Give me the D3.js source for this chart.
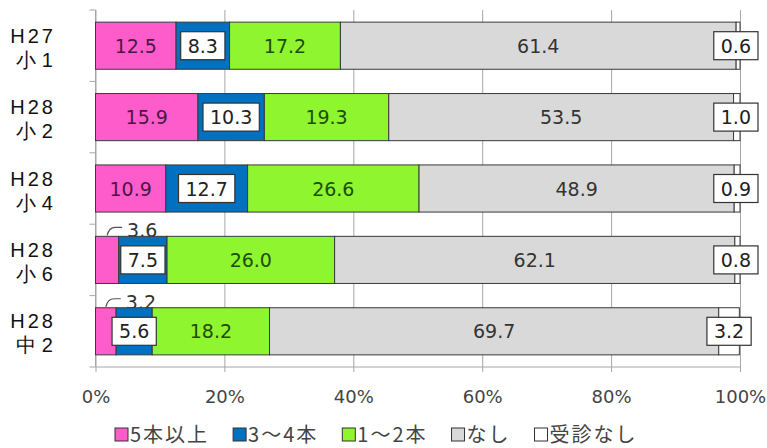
<!DOCTYPE html>
<html lang="ja">
<head>
<meta charset="utf-8">
<title>むし歯の本数</title>
<script src="https://d3js.org/d3.v7.min.js"></script>
<style>
  body { margin: 0; background: #fff; }
  svg { display: block; }
</style>
</head>
<body>
<svg id="chart" width="767" height="448"></svg>
<script>
// data (percent)
var yearLabels  = ["H27", "H28", "H28", "H28", "H28"];
var gradeLabels = ["小 1", "小 2", "小 4", "小 6", "中 2"];
var seriesNames = ["5本以上", "3〜4本", "1〜2本", "なし", "受診なし"];
var fiveOrMore  = [12.5, 15.9, 10.9, 3.6, 3.2];
var threeToFour = [8.3, 10.3, 12.7, 7.5, 5.6];
var oneToTwo    = [17.2, 19.3, 26.6, 26.0, 18.2];
var noneVals    = [61.4, 53.5, 48.9, 62.1, 69.7];
var notExamined = [0.6, 1.0, 0.9, 0.8, 3.2];
var xTicks = [0, 20, 40, 60, 80, 100];

var colors    = ["#ff5ccb", "#0070c0", "#8ef52f", "#d9d9d9", "#ffffff"];
var textColor = ["#4a1744", "#222", "#1f4d05", "#333", "#222"];

var categories = yearLabels.map(function(d, i){ return d + " " + gradeLabels[i]; });
var allSeries = [fiveOrMore, threeToFour, oneToTwo, noneVals, notExamined];

var svg = d3.select("#chart");
var plotTop = 10, plotBottom = 367, plotLeft = 95.5, plotRight = 740;

var x = d3.scaleLinear().domain([0, 100]).range([plotLeft, plotRight]);
var y = d3.scaleBand().domain(categories).range([plotTop, plotBottom])
          .paddingInner(0.34).paddingOuter(0.17);

// stacked segments
var rows = categories.map(function(c, i){
  var acc = 0;
  return allSeries.map(function(s, k){
    var seg = {cat: c, k: k, v: s[i], x0: acc, x1: acc + s[i]};
    acc += s[i];
    return seg;
  });
});
var segs = d3.merge(rows);

var fmt = d3.format(".1f");
var font = "DejaVu Sans, sans-serif";

// gridlines + tick marks under the axis
svg.append("g")
  .attr("transform", "translate(0," + plotTop + ")")
  .call(d3.axisBottom(x).tickValues(xTicks).tickSize(plotBottom - plotTop + 5).tickFormat(""))
  .call(function(g){
    g.select(".domain").remove();
    g.selectAll("line").attr("stroke", "#a6a6a6");
  });

// axis lines
svg.append("line").attr("x1", plotLeft).attr("x2", plotRight).attr("y1", plotBottom).attr("y2", plotBottom)
  .attr("stroke", "#a6a6a6");
svg.append("line").attr("x1", plotLeft).attr("x2", plotLeft).attr("y1", plotTop).attr("y2", plotBottom)
  .attr("stroke", "#a6a6a6");
// y ticks on band boundaries
svg.selectAll(".ytick").data(d3.range(categories.length + 1)).enter().append("line")
  .attr("x1", plotLeft - 6).attr("x2", plotLeft)
  .attr("y1", function(i){ return plotTop + i * y.step(); })
  .attr("y2", function(i){ return plotTop + i * y.step(); })
  .attr("stroke", "#a6a6a6");

// x tick labels
svg.append("g")
  .attr("transform", "translate(0," + plotBottom + ")")
  .call(d3.axisBottom(x).tickValues(xTicks).tickSize(0).tickPadding(23)
        .tickFormat(function(d){ return d + "%"; }))
  .call(function(g){
    g.select(".domain").remove();
    g.selectAll("text").attr("font-family", font).attr("font-size", 18).attr("fill", "#444");
  });

// category labels (two lines)
var cat = svg.append("g");
categories.forEach(function(c, i){
  var cy = y(c) + y.bandwidth() / 2;
  cat.append("text").attr("x", 56).attr("y", cy - 3)
    .attr("text-anchor", "end").attr("font-family", "Liberation Sans, Arial, sans-serif")
    .attr("font-size", 20).attr("letter-spacing", 3).attr("fill", "#111")
    .text(yearLabels[i]);
  cat.append("text").attr("x", 53).attr("y", cy + 21)
    .attr("text-anchor", "end").attr("font-family", "Liberation Sans, Arial, sans-serif")
    .attr("font-size", 20).attr("fill", "#111")
    .text(gradeLabels[i]);
});

// small pink values sit above the bar with a leader line (drawn under the bars)
var small = segs.filter(function(d){ return d.k === 0 && d.v < 5; });
svg.selectAll(".leader").data(small).enter().append("path")
  .attr("fill", "none").attr("stroke", "#555").attr("stroke-width", 1.2)
  .attr("d", function(d){
    var cx = x((d.x0 + d.x1) / 2), t = y(d.cat);
    return "M" + cx + "," + (t - 1) + " Q" + (cx + 2) + "," + (t - 9) + " " + (cx + 8) + "," + (t - 9) +
           " L" + (cx + 15) + "," + (t - 9);
  });
svg.selectAll(".smallLab").data(small).enter().append("text")
  .attr("x", function(d){ return x((d.x0 + d.x1) / 2) + 20; })
  .attr("y", function(d){ return y(d.cat) + 1; })
  .attr("font-family", font).attr("font-size", 19).attr("fill", "#333")
  .text(function(d){ return fmt(d.v); });

// bars
svg.selectAll(".seg").data(segs).enter().append("rect")
  .attr("x", function(d){ return x(d.x0); })
  .attr("y", function(d){ return y(d.cat); })
  .attr("width", function(d){ return x(d.x1) - x(d.x0); })
  .attr("height", y.bandwidth())
  .attr("fill", function(d){ return colors[d.k]; })
  .attr("stroke", "#3a3a3a").attr("stroke-width", 1);

// value labels
var labs = svg.append("g");
segs.filter(function(d){ return !(d.k === 0 && d.v < 5); }).forEach(function(d){
  var cx = x((d.x0 + d.x1) / 2), cy = y(d.cat) + y.bandwidth() / 2;
  var boxed = d.k === 1 || d.k === 4;
  var g = labs.append("g");
  var t = g.append("text").attr("text-anchor", "middle")
    .attr("font-family", font).attr("font-size", 19)
    .attr("fill", textColor[d.k]).text(fmt(d.v));
  if (boxed) {
    var w = t.node().getComputedTextLength() + 14, h = 28;
    if (cx + w / 2 > 758) cx = 758 - w / 2;
    g.insert("rect", "text").attr("x", cx - w / 2).attr("y", cy - h / 2)
      .attr("width", w).attr("height", h)
      .attr("fill", "#fff").attr("stroke", "#333").attr("stroke-width", 1.2);
  }
  t.attr("x", cx).attr("y", cy + 7);
});

// legend
var leg = svg.append("g");
var lx = 115;
seriesNames.forEach(function(name, k){
  leg.append("rect").attr("x", lx).attr("y", 428).attr("width", 13).attr("height", 13)
    .attr("fill", colors[k]).attr("stroke", "#333").attr("stroke-width", 1);
  var t = leg.append("text").attr("x", lx + 15).attr("y", 442)
    .attr("font-family", "Noto Sans CJK JP, sans-serif").attr("font-size", 20)
    .attr("letter-spacing", 2).attr("fill", "#444").text(name);
  lx += 15 + t.node().getComputedTextLength() + 24;
});
</script>
</body>
</html>
